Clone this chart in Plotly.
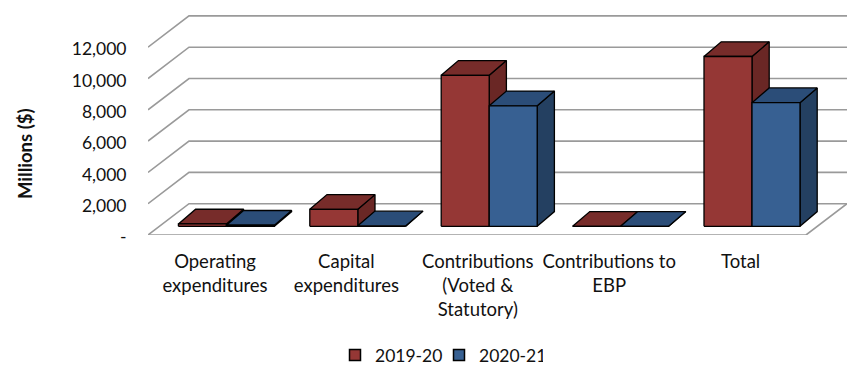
import plotly.graph_objects as go

categories = ["Operating<br>expenditures", "Capital<br>expenditures",
              "Contributions<br>(Voted &<br>Statutory)", "Contributions to<br>EBP", "Total"]
values_2019_20 = [150, 1085, 9650, 0, 10850]
values_2020_21 = [70, 30, 7700, 0, 7900]
y_ticks = [0, 2000, 4000, 6000, 8000, 10000, 12000]
y_labels = ["-", "2,000", "4,000", "6,000", "8,000", "10,000", "12,000"]

PAGE = 8
W, H = 857 - PAGE, 374 - PAGE
L, R, T, B = 148 - PAGE, 10, 2, 139
PW, PH = W - L - R, H - T - B
PX_CAT = 131.4
PX_STEP = 31.3
x0, x1 = -67 / PX_CAT, (847 - 215) / PX_CAT
y1 = PH / PX_STEP * 2000
DEPTH_X = 41 / PX_CAT
DEPTH_Y = 2000
BASE_D = 0.278
BAR_W = 48 / PX_CAT
BAR_DX = 17.2 / PX_CAT
BAR_DY = 14.7 / PX_STEP * 2000

GRID = "#9a9a9a"
FONT = "Lato"
series = [
    ("2019-20", values_2019_20, -1, "#953735", "#772c2a", "#6a2725"),
    ("2020-21", values_2020_21, 0, "#376092", "#2b4d78", "#244061"),
]

fig = go.Figure()

def poly(xs, ys, fill=None, color=GRID, width=1.6):
    fig.add_trace(go.Scatter(
        x=xs, y=ys, mode="lines", line=dict(color=color, width=width),
        fill="toself" if fill else None, fillcolor=fill,
        hoverinfo="skip", showlegend=False, cliponaxis=False))

xa, xb = x0, x1 - DEPTH_X
for v in y_ticks:
    poly([xa, xa + DEPTH_X, xb + DEPTH_X], [v, v + DEPTH_Y, v + DEPTH_Y])
poly([xa, xb, xb + DEPTH_X], [0, 0, DEPTH_Y])

for i in range(len(categories)):
    for name, vals, pos, front, top, side in series:
        v = vals[i]
        lft = i + BASE_D * DEPTH_X + pos * BAR_W
        rgt = lft + BAR_W
        b = BASE_D * DEPTH_Y
        t = b + v
        poly([rgt, rgt + BAR_DX, rgt + BAR_DX, rgt, rgt],
             [b, b + BAR_DY, t + BAR_DY, t, b], side, "#000000", 1.3)
        poly([lft, lft + BAR_DX, rgt + BAR_DX, rgt, lft],
             [t, t + BAR_DY, t + BAR_DY, t, t], top, "#000000", 1.3)
        poly([lft, rgt, rgt, lft, lft], [b, b, t, t, b], front, "#000000", 1.3)

for name, vals, pos, front, top, side in series:
    fig.add_trace(go.Scatter(
        x=[None], y=[None], mode="markers", name=name,
        marker=dict(symbol="square", size=11, color=front,
                    line=dict(color="#000000", width=1.5))))

fig.update_layout(
    width=W, height=H, margin=dict(l=L, r=R, t=T, b=B, autoexpand=False),
    paper_bgcolor="#ffffff", plot_bgcolor="#ffffff",
    font=dict(family=FONT, size=18.5, color="#111111"),
    xaxis=dict(range=[x0, x1], tickvals=list(range(len(categories))), ticktext=categories,
               showgrid=False, zeroline=False, showline=False, tickangle=0,
               ticks="outside", ticklen=10, tickcolor="rgba(0,0,0,0)"),
    yaxis=dict(range=[0, y1], tickvals=y_ticks, ticktext=y_labels,
               tickfont=dict(size=17.5), ticklabelshift=2,
               showgrid=False, zeroline=False, showline=False,
               ticks="outside", ticklen=17, tickcolor="rgba(0,0,0,0)"),
    legend=dict(orientation="h", x=(439 - 148) / PW, xanchor="center",
                y=-(355 - 235) / PH, yanchor="middle",
                font=dict(size=17.5), itemwidth=30,
                entrywidth=59, entrywidthmode="pixels"),
    annotations=[dict(text="<b>Millions ($)</b>", textangle=-90, showarrow=False,
                      xref="paper", yref="paper", xanchor="center", yanchor="middle",
                      x=(25 - 148) / PW, y=(235 - 154) / PH,
                      font=dict(size=18.5, family=FONT, color="#111111"))],
)

fig.write_html("out.html")
